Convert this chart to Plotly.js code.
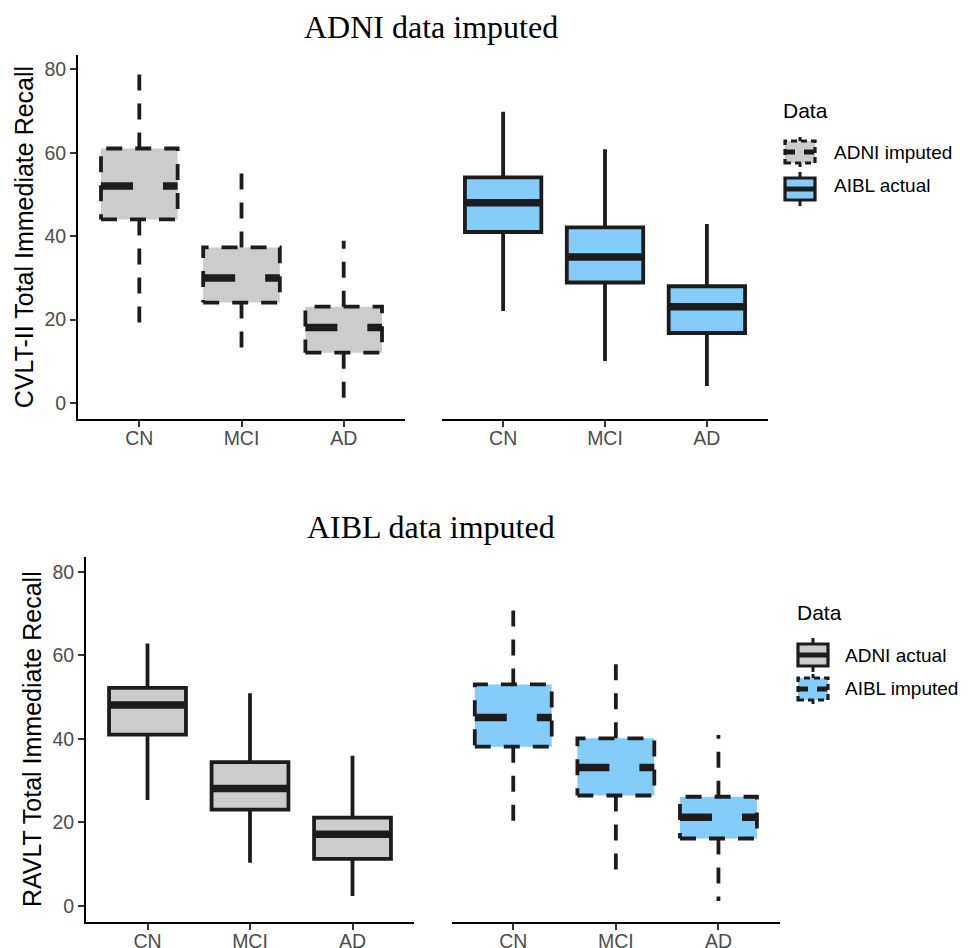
<!DOCTYPE html>
<html><head><meta charset="utf-8">
<script src="https://cdn.plot.ly/plotly-3.0.1.min.js"></script>
<style>html,body{margin:0;padding:0;background:#fff}</style>
</head><body><div id="chart" style="width:968px;height:948px"></div>
<script>
// ---------- data ----------
const categories = ['CN', 'MCI', 'AD'];
const yTickVals = [0, 20, 40, 60, 80];

// Top row: CVLT-II Total Immediate Recall
const adniImputedLower  = [19.1, 13.1, 1.0];
const adniImputedQ1     = [44.0, 24.1, 12.1];
const adniImputedMedian = [52.0, 30.0, 18.1];
const adniImputedQ3     = [61.0, 37.3, 23.1];
const adniImputedUpper  = [79.4, 55.6, 38.9];

const aiblActualLower  = [22.1, 10.1, 4.1];
const aiblActualQ1     = [41.0, 28.9, 16.8];
const aiblActualMedian = [48.0, 35.0, 23.1];
const aiblActualQ3     = [54.1, 42.1, 28.0];
const aiblActualUpper  = [69.8, 60.8, 42.9];

// Bottom row: RAVLT Total Immediate Recall
const adniActualLower  = [25.3, 10.3, 2.3];
const adniActualQ1     = [41.0, 23.0, 11.2];
const adniActualMedian = [48.1, 28.1, 17.1];
const adniActualQ3     = [52.2, 34.4, 21.1];
const adniActualUpper  = [62.8, 50.9, 35.9];

const aiblImputedLower  = [19.7, 7.6, 1.1];
const aiblImputedQ1     = [38.1, 26.4, 16.1];
const aiblImputedMedian = [45.1, 33.1, 21.2];
const aiblImputedQ3     = [53.0, 40.1, 26.1];
const aiblImputedUpper  = [71.5, 58.3, 40.9];

const topTitle = 'ADNI data imputed';
const bottomTitle = 'AIBL data imputed';
const topYTitle = 'CVLT-II Total Immediate Recall';
const bottomYTitle = 'RAVLT Total Immediate Recall';
const legendTitle = 'Data';
const topLegendLabels = ['ADNI imputed', 'AIBL actual'];
const bottomLegendLabels = ['ADNI actual', 'AIBL imputed'];

// ---------- styling ----------
const W = 968, H = 948;
const X = p => p / W;
const Y = p => 1 - p / H;
const GREY = '#cccccc';
const BLUE = '#84cdfa';
const INK = '#1c1c1c';
const LW = 3.8, MEDW = 7.5;
const HALF = 0.375;
const SANS = 'Liberation Sans, Arial, sans-serif';
const SERIF = 'Liberation Serif, Times New Roman, serif';

const positions = categories.map((c, i) => i + 1);

function dashedBoxes(xa, ya, lower, q1, med, q3, upper, fill) {
  const traces = [];
  positions.forEach((p, i) => {
    traces.push({
      type: 'scatter', mode: 'lines', xaxis: xa, yaxis: ya, hoverinfo: 'skip', showlegend: false,
      x: [p - HALF, p + HALF, p + HALF, p - HALF, p - HALF],
      y: [q1[i], q1[i], q3[i], q3[i], q1[i]],
      fill: 'toself', fillcolor: fill,
      line: {color: INK, width: LW, dash: '16px,13px'}
    });
  });
  const wx = [], wy = [];
  positions.forEach((p, i) => {
    wx.push(p, p, null, p, p, null);
    wy.push(q3[i], upper[i], null, q1[i], lower[i], null);
  });
  traces.push({
    type: 'scatter', mode: 'lines', xaxis: xa, yaxis: ya, hoverinfo: 'skip', showlegend: false,
    x: wx, y: wy, line: {color: INK, width: LW, dash: '16px,13px'}
  });
  const mx = [], my = [];
  positions.forEach((p, i) => {
    mx.push(p - HALF, p + HALF, null);
    my.push(med[i], med[i], null);
  });
  traces.push({
    type: 'scatter', mode: 'lines', xaxis: xa, yaxis: ya, hoverinfo: 'skip', showlegend: false,
    x: mx, y: my, line: {color: INK, width: MEDW, dash: '32px,30px'}
  });
  return traces;
}

function solidBoxes(xa, ya, lower, q1, med, q3, upper, fill) {
  const box = {
    type: 'box', xaxis: xa, yaxis: ya, showlegend: false, hoverinfo: 'skip',
    x: positions, q1: q1, median: med, q3: q3, lowerfence: lower, upperfence: upper,
    width: 2 * HALF, whiskerwidth: 0, boxpoints: false,
    fillcolor: fill, line: {color: INK, width: LW}
  };
  const mx = [], my = [];
  positions.forEach((p, i) => {
    mx.push(p - HALF, p + HALF, null);
    my.push(med[i], med[i], null);
  });
  const medTrace = {
    type: 'scatter', mode: 'lines', xaxis: xa, yaxis: ya, hoverinfo: 'skip', showlegend: false,
    x: mx, y: my, line: {color: INK, width: MEDW}
  };
  return [box, medTrace];
}

const data = [].concat(
  dashedBoxes('x', 'y', adniImputedLower, adniImputedQ1, adniImputedMedian, adniImputedQ3, adniImputedUpper, GREY),
  solidBoxes('x2', 'y2', aiblActualLower, aiblActualQ1, aiblActualMedian, aiblActualQ3, aiblActualUpper, BLUE),
  solidBoxes('x3', 'y3', adniActualLower, adniActualQ1, adniActualMedian, adniActualQ3, adniActualUpper, GREY),
  dashedBoxes('x4', 'y4', aiblImputedLower, aiblImputedQ1, aiblImputedMedian, aiblImputedQ3, aiblImputedUpper, BLUE)
);

function xAxis(domain, anchor) {
  return {
    domain: domain, anchor: anchor, range: [0.4, 3.6],
    tickmode: 'array', tickvals: positions, ticktext: categories,
    showline: true, linecolor: '#000', linewidth: 2,
    ticks: 'outside', ticklen: 6, tickwidth: 2, tickcolor: '#333',
    ticklabelstandoff: -5,
    tickfont: {family: SANS, size: 19.5, color: '#4d4d4d'},
    showgrid: false, zeroline: false, fixedrange: true
  };
}
function yAxis(domain, anchor, range, title) {
  return {
    domain: domain, anchor: anchor, range: range,
    tickmode: 'array', tickvals: yTickVals,
    showline: true, linecolor: '#000', linewidth: 2,
    ticks: 'outside', ticklen: 6, tickwidth: 2, tickcolor: '#333',
    tickfont: {family: SANS, size: 19.5, color: '#4d4d4d'},
    showgrid: false, zeroline: false, fixedrange: true,
    title: {text: title, font: {family: SANS, size: 25, color: '#000'}, standoff: 4}
  };
}
function hiddenY(domain, anchor, range) {
  return {domain: domain, anchor: anchor, range: range, visible: false, showgrid: false, zeroline: false, fixedrange: true};
}

const topDomainY = [Y(419), Y(55)];
const botDomainY = [Y(921.7), Y(556.7)];
const topRange = [-3.8, 83.4];
const botRange = [-3.83, 83.6];

// ---------- custom legend keys ----------
const shapes = [];
function legendKey(cx, cy, fill, dashed) {
  const bw = 15, bh = 11, wh = 17;
  const dash = dashed ? '6px,4px' : 'solid';
  shapes.push({type: 'line', xref: 'paper', yref: 'paper', x0: X(cx), x1: X(cx), y0: Y(cy - bh), y1: Y(cy - wh), line: {color: INK, width: 3, dash: dashed ? '4px,3px' : 'solid'}});
  shapes.push({type: 'line', xref: 'paper', yref: 'paper', x0: X(cx), x1: X(cx), y0: Y(cy + bh), y1: Y(cy + wh), line: {color: INK, width: 3, dash: dashed ? '4px,3px' : 'solid'}});
  shapes.push({type: 'rect', xref: 'paper', yref: 'paper', x0: X(cx - bw), x1: X(cx + bw), y0: Y(cy + bh), y1: Y(cy - bh), fillcolor: fill, line: {color: INK, width: 3.2, dash: dash}});
  shapes.push({type: 'line', xref: 'paper', yref: 'paper', x0: X(cx - bw), x1: X(cx + bw), y0: Y(cy), y1: Y(cy), line: {color: INK, width: 5, dash: dashed ? '10px,9px' : 'solid'}});
}
legendKey(800, 152, GREY, true);
legendKey(800, 189, BLUE, false);
legendKey(813, 655, GREY, false);
legendKey(813, 689, BLUE, true);

const annotations = [
  {text: topTitle, xref: 'paper', yref: 'paper', x: X(431), y: Y(27), xanchor: 'center', yanchor: 'middle', showarrow: false, font: {family: SERIF, size: 32, color: '#000'}},
  {text: bottomTitle, xref: 'paper', yref: 'paper', x: X(431), y: Y(527), xanchor: 'center', yanchor: 'middle', showarrow: false, font: {family: SERIF, size: 32, color: '#000'}},
  {text: legendTitle, xref: 'paper', yref: 'paper', x: X(781), y: Y(110), xanchor: 'left', yanchor: 'middle', showarrow: false, font: {family: SANS, size: 21, color: '#000'}},
  {text: topLegendLabels[0], xref: 'paper', yref: 'paper', x: X(832), y: Y(153), xanchor: 'left', yanchor: 'middle', showarrow: false, font: {family: SANS, size: 19, color: '#000'}},
  {text: topLegendLabels[1], xref: 'paper', yref: 'paper', x: X(832), y: Y(186), xanchor: 'left', yanchor: 'middle', showarrow: false, font: {family: SANS, size: 19, color: '#000'}},
  {text: legendTitle, xref: 'paper', yref: 'paper', x: X(795), y: Y(612), xanchor: 'left', yanchor: 'middle', showarrow: false, font: {family: SANS, size: 21, color: '#000'}},
  {text: bottomLegendLabels[0], xref: 'paper', yref: 'paper', x: X(843), y: Y(655), xanchor: 'left', yanchor: 'middle', showarrow: false, font: {family: SANS, size: 19, color: '#000'}},
  {text: bottomLegendLabels[1], xref: 'paper', yref: 'paper', x: X(843), y: Y(688), xanchor: 'left', yanchor: 'middle', showarrow: false, font: {family: SANS, size: 19, color: '#000'}}
];

const layout = {
  width: W, height: H,
  margin: {l: 0, r: 0, t: 0, b: 0},
  paper_bgcolor: '#fff', plot_bgcolor: '#fff',
  showlegend: false,
  xaxis: xAxis([X(78), X(405)], 'y'),
  yaxis: yAxis(topDomainY, 'x', topRange, topYTitle),
  xaxis2: xAxis([X(442), X(768)], 'y2'),
  yaxis2: hiddenY(topDomainY, 'x2', topRange),
  xaxis3: xAxis([X(86), X(414)], 'y3'),
  yaxis3: yAxis(botDomainY, 'x3', botRange, bottomYTitle),
  xaxis4: xAxis([X(451.7), X(780)], 'y4'),
  yaxis4: hiddenY(botDomainY, 'x4', botRange),
  shapes: shapes,
  annotations: annotations
};

Plotly.newPlot('chart', data, layout, {displayModeBar: false, staticPlot: true});
</script>
</body></html>
